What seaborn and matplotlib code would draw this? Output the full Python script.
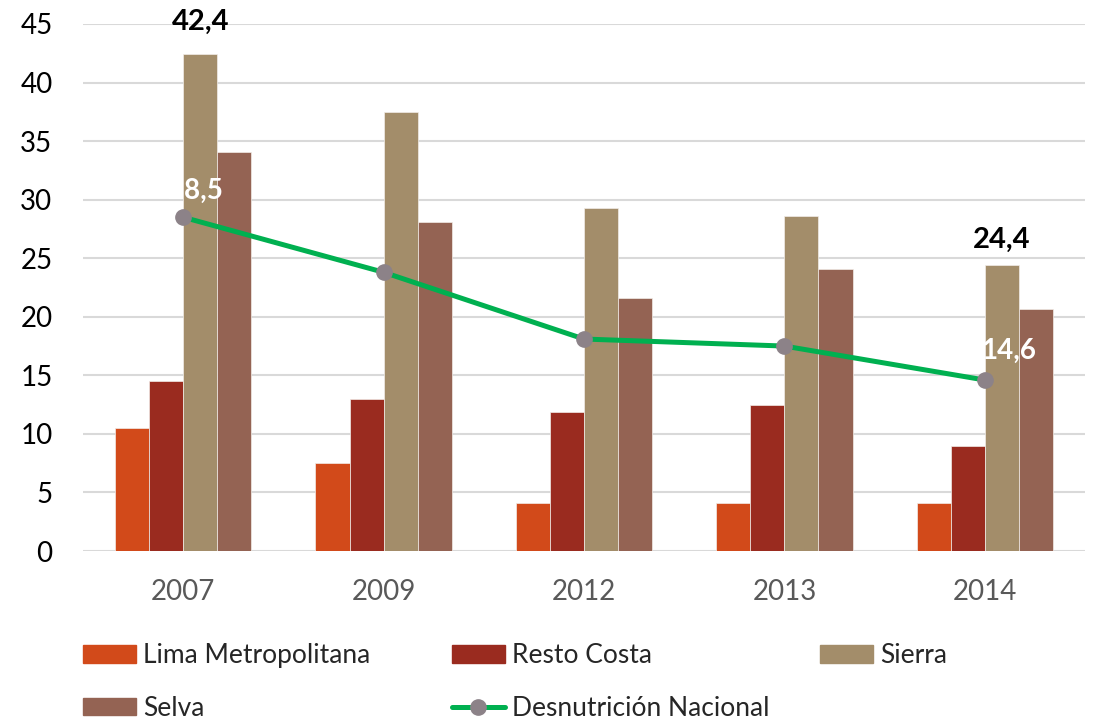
import numpy as np
import pandas as pd
import seaborn as sns
import matplotlib.pyplot as plt
from matplotlib.patches import Patch
from matplotlib.lines import Line2D

# datos
years = ["2007", "2009", "2012", "2013", "2014"]
lima = [10.5, 7.5, 4.1, 4.1, 4.1]
resto_costa = [14.5, 13.0, 11.9, 12.5, 9.0]
sierra = [42.4, 37.5, 29.3, 28.6, 24.4]
selva = [34.1, 28.1, 21.6, 24.1, 20.7]
nacional = [28.5, 23.8, 18.1, 17.5, 14.6]

regions = ["Lima Metropolitana", "Resto Costa", "Sierra", "Selva"]
colors = ["#D24A1A", "#9A2B1F", "#A38D6A", "#946353"]
green = "#00B050"
grey_marker = "#8C8288"

df = pd.DataFrame({"year": years * 4,
                   "region": np.repeat(regions, len(years)),
                   "value": lima + resto_costa + sierra + selva})

sns.set_style("white")
plt.rcParams["font.family"] = ["Lato", "DejaVu Sans"]

fig = plt.figure(figsize=(10.97, 7.24), dpi=100)
ax = fig.add_axes([83 / 1097, 1 - 551 / 724, 1002 / 1097, 527 / 724])

sns.barplot(data=df, x="year", y="value", hue="region", order=years,
            hue_order=regions, palette=colors, saturation=1, width=0.68, ax=ax,
            edgecolor="#F2EDE8", linewidth=0.5, legend=False, zorder=2)

xpos = np.arange(len(years))
ax.plot(xpos, nacional, color=green, linewidth=3.6, marker="o",
        markersize=11, markerfacecolor=grey_marker, markeredgecolor=grey_marker,
        zorder=4)

# etiquetas
ax.text(0.085, sierra[0] + 1.7, "42,4", ha="center", va="bottom",
        fontsize=21, fontweight="bold", color="black")
ax.text(4.085, sierra[4] + 1.1, "24,4", ha="center", va="bottom",
        fontsize=21, fontweight="bold", color="black")
ax.annotate("28,5", (0, nacional[0]), xytext=(12, 26), textcoords="offset pixels",
            ha="center", va="center", fontsize=20, fontweight="bold", color="white", zorder=5)
ax.annotate("14,6", (4, nacional[4]), xytext=(24, 29), textcoords="offset pixels",
            ha="center", va="center", fontsize=20, fontweight="bold", color="white", zorder=5)

ax.set_ylim(0, 45)
ax.set_xlim(-0.5, 4.5)
ax.set_yticks(range(0, 46, 5))
ax.yaxis.grid(True, color="#D9D9D9", linewidth=1.5, zorder=0)
ax.set_axisbelow(True)
for s in ax.spines.values():
    s.set_visible(False)
ax.tick_params(axis="y", length=0, pad=22, labelsize=20, labelcolor="black")
ax.tick_params(axis="x", length=0, pad=20, labelsize=20, labelcolor="#595959")
ax.set_xlabel("")
ax.set_ylabel("")

# leyenda en tres columnas
def patch(c):
    return Patch(facecolor=c, edgecolor=c)

line_handle = Line2D([], [], color=green, linewidth=3.6, marker="o", markersize=11,
                     markerfacecolor=grey_marker, markeredgecolor=grey_marker)
cols = [([patch(colors[0]), patch(colors[3])], ["Lima Metropolitana", "Selva"], 83),
        ([patch(colors[1]), line_handle], ["Resto Costa", "Desnutrición Nacional"], 452),
        ([patch(colors[2])], ["Sierra"], 820)]
for handles, labels, xpx in cols:
    fig.legend(handles, labels, loc="upper left", bbox_to_anchor=(xpx / 1097, 1 - 643 / 724),
               frameon=False, fontsize=19, handlelength=2.0, handleheight=0.65,
               handletextpad=0.27, labelspacing=1.05, borderpad=0, borderaxespad=0)

fig.savefig("out.png", dpi=100)
